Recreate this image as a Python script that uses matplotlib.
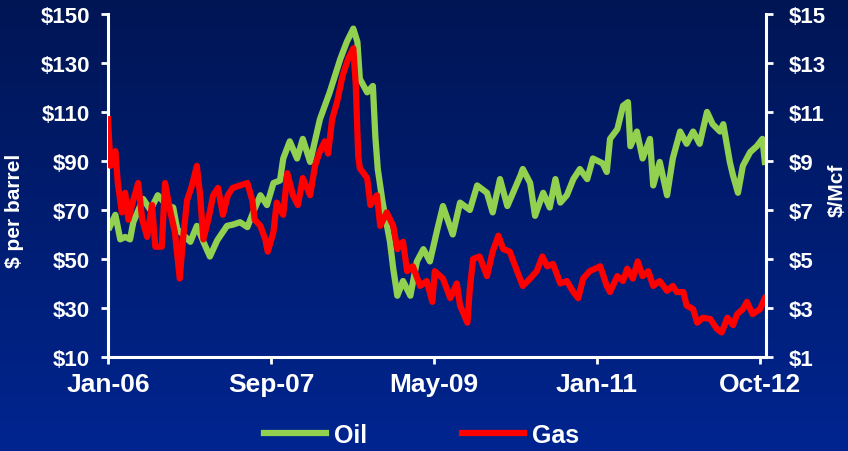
import numpy as np
import matplotlib
matplotlib.use("Agg")
import matplotlib.pyplot as plt
from matplotlib.colors import LinearSegmentedColormap

# months since Jan-06
oil_month = [0.2, 0.9, 1.5, 2.1, 2.7, 3.1, 4.3, 5.2, 6.1, 7.2, 8.0, 8.5, 9.2, 10.1,
             10.9, 11.7, 12.5, 13.4, 14.6, 15.3, 16.2, 17.1, 17.8, 18.7, 19.5, 20.3,
             21.1, 21.5, 22.3, 23.2, 23.9, 24.8, 26.0, 27.2, 28.5, 29.3, 30.1, 30.6,
             30.9, 31.8, 32.5, 32.8, 33.1, 33.7, 34.6, 35.0, 35.5, 36.2, 37.1, 37.9,
             38.7, 39.5, 40.4, 41.1, 42.3, 43.2, 44.4, 45.3, 46.5, 47.2, 48.1, 49.0,
             49.7, 50.6, 50.9, 51.8, 52.4, 53.4, 54.2, 54.9, 55.5, 56.3, 57.1, 57.9,
             58.8, 59.5, 60.7, 61.2, 61.6, 62.5, 63.2, 63.8, 64.1, 64.9, 65.6, 66.5,
             66.9, 67.7, 68.6, 69.3, 70.2, 71.0, 71.8, 72.6, 73.5, 74.2, 75.1, 75.5,
             76.3, 76.7, 77.3, 77.9, 78.8, 79.6, 80.3, 80.6]
oil_price = [63, 68, 58, 59, 58, 65, 74.5, 70, 76, 72, 71, 62, 60, 57,
             63.5, 57, 51, 57.6, 63.5, 64, 65, 63, 69, 76, 72, 81,
             82, 91, 98, 91, 99, 89.6, 107, 118, 131.6, 138.6, 144, 138.6,
             123.5, 118, 120.6, 100, 86.7, 73, 57, 46, 35, 41, 35, 49,
             54, 49, 62, 71.6, 60, 73, 70, 80, 77, 69, 82.6, 71.6,
             77, 84, 86.7, 81, 67.6, 77, 71, 82.6, 73, 76, 82.6, 86.7,
             82.6, 91, 89, 85.5, 99, 103, 112.5, 114, 96, 102, 91, 99,
             80, 89.6, 76, 91, 102, 97, 102, 97, 110, 105, 102, 105,
             89.6, 84, 77, 88, 93.6, 96, 99, 89.6]

gas_month = [0.0, 0.3, 0.9, 1.2, 1.7, 2.1, 2.5, 3.1, 3.7, 4.2, 4.8, 5.4, 5.8, 6.6,
             7.0, 7.6, 8.2, 8.8, 9.2, 9.7, 10.3, 10.9, 11.3, 11.7, 12.3, 12.9, 13.5,
             14.1, 14.7, 15.3, 16.2, 17.1, 17.7, 18.0, 18.7, 19.3, 19.6, 20.3, 20.7,
             21.5, 22.0, 22.7, 23.3, 23.9, 24.8, 25.4, 26.0, 26.6, 27.0, 27.5, 28.1,
             28.8, 29.5, 30.1, 30.4, 30.7, 30.9, 31.8, 32.2, 33.0, 33.4, 34.2, 35.0,
             35.5, 36.2, 36.7, 37.4, 38.3, 39.1, 39.8, 40.1, 41.1, 42.0, 42.8, 43.2,
             44.1, 44.4, 44.8, 45.6, 46.5, 47.2, 47.9, 48.5, 49.3, 50.2, 50.9, 51.8,
             52.6, 53.3, 53.9, 54.6, 55.5, 56.3, 57.1, 57.7, 58.3, 59.1, 60.4, 61.2,
             61.6, 62.5, 63.2, 63.7, 64.4, 65.0, 65.6, 66.3, 66.9, 67.7, 68.6, 69.3,
             69.8, 70.6, 71.0, 71.8, 72.3, 73.0, 73.9, 74.7, 75.3, 76.0, 76.7, 77.2,
             77.9, 78.4, 79.1, 80.0, 80.6]
gas_price = [10.7, 8.8, 9.4, 8.1, 6.9, 7.7, 6.6, 7.4, 8.1, 6.6, 5.9, 7.2, 5.5, 5.5,
             8.1, 7.0, 6.1, 4.2, 5.8, 7.4, 8.0, 8.8, 7.6, 5.8, 6.6, 7.6, 7.9,
             6.8, 7.6, 7.9, 8.0, 8.1, 7.4, 6.6, 6.35, 5.8, 5.3, 6.1, 7.3,
             6.8, 8.5, 7.6, 7.2, 8.3, 7.6, 8.8, 9.4, 9.8, 9.3, 10.7, 11.4,
             12.5, 13.2, 13.6, 12.1, 9.2, 8.7, 8.3, 7.2, 7.6, 6.35, 6.9, 6.35,
             5.4, 5.7, 4.5, 4.7, 3.9, 4.1, 3.25, 4.5, 4.2, 3.4, 4.0, 3.1,
             2.4, 3.8, 5.0, 5.1, 4.3, 5.3, 5.95, 5.4, 5.3, 4.5, 3.9, 4.2,
             4.5, 5.1, 4.7, 4.8, 4.0, 4.1, 3.65, 3.4, 4.2, 4.5, 4.7, 3.9,
             3.65, 4.3, 4.1, 4.6, 4.2, 4.9, 4.3, 4.5, 3.9, 4.1, 3.7, 3.9,
             3.65, 3.65, 3.1, 2.95, 2.4, 2.6, 2.55, 2.15, 2.0, 2.6, 2.3, 2.75,
             2.95, 3.25, 2.75, 2.95, 3.4]

x_ticks = [0, 20, 40, 60, 80]
x_labels = ["Jan-06", "Sep-07", "May-09", "Jan-11", "Oct-12"]
oil_ticks = [10, 30, 50, 70, 90, 110, 130, 150]
gas_ticks = [1, 3, 5, 7, 9, 11, 13, 15]

plt.rcParams['font.family'] = ['Liberation Sans', 'DejaVu Sans']
plt.rcParams['font.weight'] = 'bold'

fig = plt.figure(figsize=(8.48, 4.52), dpi=100)

# gradient background
bg = fig.add_axes([0, 0, 1, 1], zorder=-10)
cmap = LinearSegmentedColormap.from_list("bg", ["#001554", "#002590"])
bg.imshow(np.linspace(0, 1, 256).reshape(-1, 1), aspect='auto', cmap=cmap,
          extent=[0, 1, 0, 1])
bg.axis('off')

ax = fig.add_axes([0.1274, 0.208, 0.776, 0.759])
ax.patch.set_alpha(0)
ax2 = ax.twinx()
ax2.patch.set_alpha(0)

l1, = ax.plot(oil_month, oil_price, color='#92D050', lw=4.5, solid_joinstyle='round')
l2, = ax2.plot(gas_month, gas_price, color='#FF0000', lw=4.5, solid_joinstyle='round')

ax.set_xlim(0, 80.75)
ax.set_ylim(10, 150)
ax2.set_ylim(1, 15)
ax.set_xticks(x_ticks)
ax.set_xticklabels(x_labels)
ax.set_yticks(oil_ticks)
ax.set_yticklabels(["$%d" % v for v in oil_ticks])
ax2.set_yticks(gas_ticks)
ax2.set_yticklabels(["$%d" % v for v in gas_ticks])

for a in (ax, ax2):
    for s in a.spines.values():
        s.set_color('white')
        s.set_linewidth(2.2)
    a.spines['top'].set_visible(False)
ax.spines['right'].set_visible(False)
ax2.spines['left'].set_visible(False)
ax2.spines['bottom'].set_visible(False)

ax.tick_params(axis='x', colors='white', length=5, width=2, pad=6, labelsize=19)
ax.tick_params(axis='y', colors='white', length=5, width=2, pad=8, labelsize=16)
ax2.tick_params(axis='y', colors='white', length=5, width=2, pad=11, labelsize=16)

ax.set_ylabel("$ per barrel", color='white', fontsize=15, fontweight='bold')
ax.yaxis.set_label_coords(-0.128, 0.43)
ax2.set_ylabel("$/Mcf", color='white', fontsize=15, fontweight='bold')
ax2.yaxis.set_label_coords(1.094, 0.49)

fig.legend([l1, l2], ["Oil", "Gas"], loc='center', bbox_to_anchor=(0.497, 0.035),
           ncol=2, frameon=False, handlelength=2.5, handletextpad=0.3,
           columnspacing=3.8, labelcolor='white',
           prop={'size': 18, 'weight': 'bold'})

fig.savefig("out.png", dpi=100)
